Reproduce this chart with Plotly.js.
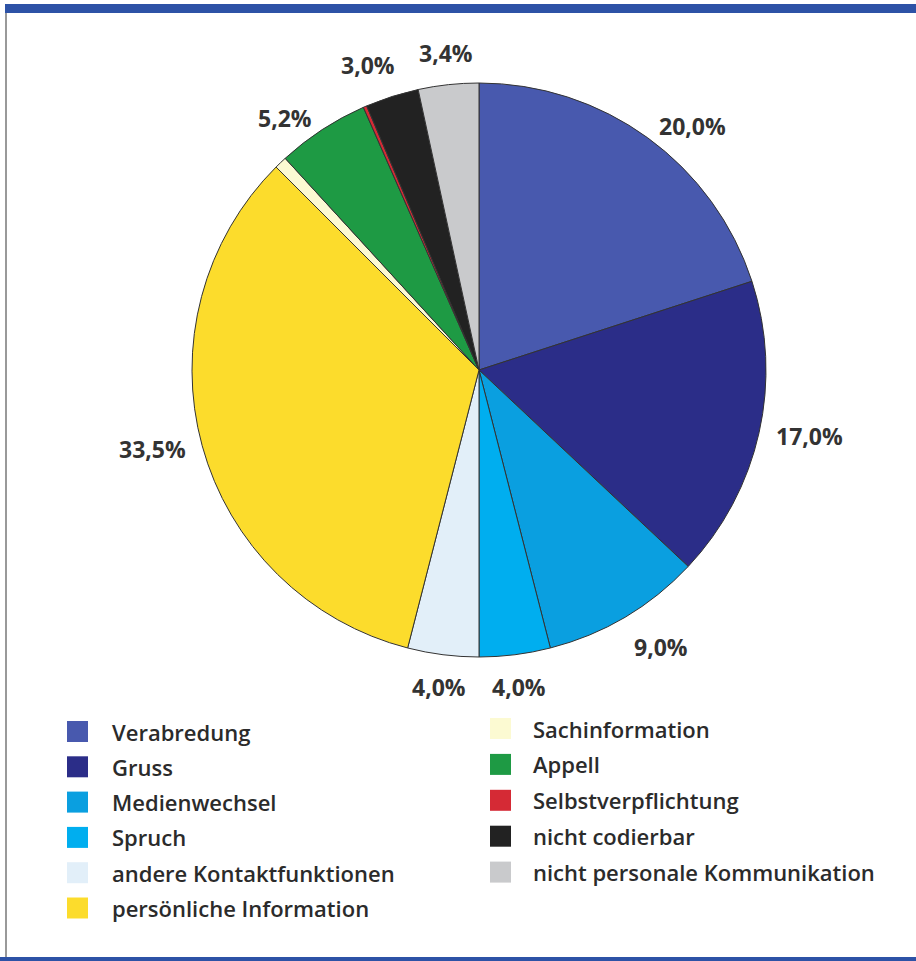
<!DOCTYPE html>
<html>
<head>
<meta charset="utf-8">
<script src="https://cdn.plot.ly/plotly-3.0.1.min.js"></script>
<style>
  html, body { margin: 0; padding: 0; background: #ffffff; }
  #chart { width: 916px; height: 961px; }
</style>
</head>
<body>
<div id="chart"></div>
<script>
// Data (percent shares, clockwise from 12 o'clock)
const categories = [
  "Verabredung",
  "Gruss",
  "Medienwechsel",
  "Spruch",
  "andere Kontaktfunktionen",
  "persönliche Information",
  "Sachinformation",
  "Appell",
  "Selbstverpflichtung",
  "nicht codierbar",
  "nicht personale Kommunikation"
];
const shares = [20.0, 17.0, 9.0, 4.0, 4.0, 33.5, 0.7, 5.2, 0.2, 3.0, 3.4];
const sliceColors = [
  "#4859ae", "#2b2d88", "#0a9fe0", "#00aeef", "#e2eff9", "#fcdc2c",
  "#fcfad2", "#1e9a44", "#d52a35", "#222222", "#c9cacc"
];
// legend layout: which categories in the left and right column
const legendLeft = [0, 1, 2, 3, 4, 5];
const legendRight = [6, 7, 8, 9, 10];

const W = 916, H = 961;
const px = x => x / W;
const py = y => 1 - y / H;

// pie geometry (pixels)
const cx = 479, cy = 370, R = 287;

const trace = {
  type: "pie",
  labels: categories,
  values: shares,
  sort: false,
  direction: "clockwise",
  rotation: 0,
  marker: { colors: sliceColors, line: { color: "#333333", width: 1 } },
  textinfo: "none",
  showlegend: false,
  hoverinfo: "label+percent",
  domain: { x: [px(cx - R), px(cx + R)], y: [py(cy + R), py(cy - R)] }
};

const shapes = [
  // frame
  { type: "rect", xref: "paper", yref: "paper", x0: px(5), x1: px(916), y0: py(13), y1: py(4), fillcolor: "#2d52a6", line: { width: 0 } },
  { type: "rect", xref: "paper", yref: "paper", x0: px(0), x1: px(916), y0: py(961), y1: py(957), fillcolor: "#2d52a6", line: { width: 0 } },
  { type: "line", xref: "paper", yref: "paper", x0: px(6), x1: px(6), y0: py(957), y1: py(13), line: { color: "#777777", width: 1.5 } }
];
const annotations = [];

// percentage labels outside the pie, placed at each slice's mid-angle
const total = shares.reduce((a, b) => a + b, 0);
const clamp01 = t => Math.max(0, Math.min(1, t));
let cum = 0;
shares.forEach(v => {
  const mid = (cum + v / 2) / total * 2 * Math.PI;
  cum += v;
  if (v < 1) return;
  const label = v.toFixed(1).replace(".", ",") + "%";
  const s = Math.sin(mid), c = Math.cos(mid);
  const d = R + 14;
  const halfW = label.length * 7.3;
  const ax = cx + d * s + Math.sign(s) * halfW * clamp01((Math.abs(s) - 0.1) / 0.3);
  const ay = cy - d * c;
  annotations.push({
    xref: "paper", yref: "paper", x: px(ax), y: py(ay),
    xanchor: "center",
    yanchor: c > 0.85 ? "bottom" : (c < -0.3 ? "top" : "middle"),
    showarrow: false,
    text: label,
    font: { family: "Open Sans, sans-serif", size: 23, color: "#333333", weight: 700 }
  });
});

function addLegendColumn(indices, sqX, textX, yStart, step) {
  indices.forEach((idx, i) => {
    const yc = yStart + i * step;
    shapes.push({
      type: "rect", xref: "paper", yref: "paper",
      x0: px(sqX), x1: px(sqX + 21), y0: py(yc + 10.5), y1: py(yc - 10.5),
      fillcolor: sliceColors[idx], line: { width: 0 }
    });
    annotations.push({
      xref: "paper", yref: "paper", x: px(textX), y: py(yc),
      xanchor: "left", yanchor: "middle", showarrow: false,
      text: categories[idx],
      font: { family: "Open Sans, sans-serif", size: 22, color: "#2b2b2b", weight: 600 }
    });
  });
}
addLegendColumn(legendLeft, 67, 110, 731.5, 35.3);
addLegendColumn(legendRight, 490, 531, 728.5, 35.9);

const layout = {
  width: W, height: H,
  margin: { l: 0, r: 0, t: 0, b: 0 },
  paper_bgcolor: "#ffffff",
  showlegend: false,
  shapes: shapes,
  annotations: annotations
};

Plotly.newPlot("chart", [trace], layout, { displayModeBar: false, staticPlot: true });
</script>
</body>
</html>
